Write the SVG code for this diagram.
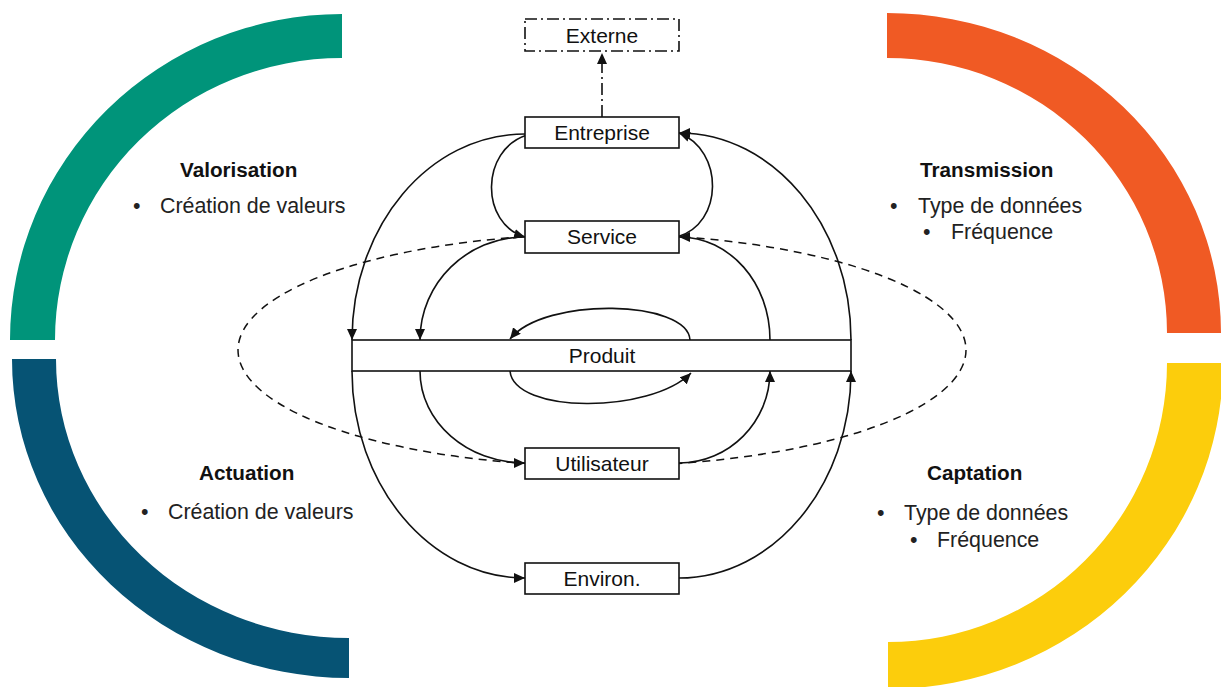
<svg xmlns="http://www.w3.org/2000/svg" width="1221" height="687" viewBox="0 0 1221 687">
<style>
.box{fill:#fff;stroke:#111;stroke-width:1.6}
.lbl{font-family:"Liberation Sans",Arial,sans-serif;font-size:21px;fill:#111;text-anchor:middle}
.ttl{font-family:"Liberation Sans",Arial,sans-serif;font-size:20.7px;font-weight:bold;fill:#111}
.txt{font-family:"Liberation Sans",Arial,sans-serif;font-size:21.4px;fill:#222}
.con{fill:none;stroke:#111;stroke-width:1.6}
</style>
<defs>
<marker id="ah" markerUnits="userSpaceOnUse" markerWidth="12" markerHeight="10" refX="11" refY="5" orient="auto">
<path d="M0,0 L11,5 L0,10 Z" fill="#111"/>
</marker>
</defs>
<rect width="1221" height="687" fill="#fff"/>
<g id="arcs">
<path id="arc-valorisation" d="M342,14 A332,326 0 0 0 10,340 L55,340 A287,282 0 0 1 342,58 Z" fill="#00947A"/>
<path id="arc-actuation" d="M12,359 A337,319 0 0 0 349,678 L349,638 A293,279 0 0 1 56,359 Z" fill="#065374"/>
<path id="arc-transmission" d="M887,13 A334,320 0 0 1 1221,333 L1167,333 A280,275 0 0 0 887,58 Z" fill="#F05A24"/>
<path id="arc-captation" d="M1223,363 A335,326 0 0 1 888,689 L888,642 A279,279 0 0 0 1167,363 Z" fill="#FCCD0C"/>
</g>
<g id="sections">
<g id="valorisation">
<text class="ttl" x="180" y="177">Valorisation</text>
<text class="txt" x="133" y="213">•</text><text class="txt" x="160" y="213">Création de valeurs</text>
</g>
<g id="actuation">
<text class="ttl" x="199" y="480">Actuation</text>
<text class="txt" x="141" y="519">•</text><text class="txt" x="168" y="519">Création de valeurs</text>
</g>
<g id="transmission">
<text class="ttl" x="920" y="177">Transmission</text>
<text class="txt" x="890" y="213">•</text><text class="txt" x="918" y="213">Type de données</text>
<text class="txt" x="923" y="239">•</text><text class="txt" x="951" y="239">Fréquence</text>
</g>
<g id="captation">
<text class="ttl" x="927" y="480">Captation</text>
<text class="txt" x="877" y="520">•</text><text class="txt" x="904" y="520">Type de données</text>
<text class="txt" x="910" y="547">•</text><text class="txt" x="937" y="547">Fréquence</text>
</g>
</g>
<g id="connectors">
<ellipse cx="602" cy="350" rx="364" ry="116" fill="none" stroke="#111" stroke-width="1.5" stroke-dasharray="8,6"/>
<path class="con" d="M602,117 L602,53" stroke-dasharray="12,4,2,4" marker-end="url(#ah)"/>
<path class="con" d="M525,134 C429,134 352,226 352,340" marker-end="url(#ah)"/>
<path class="con" d="M527,135 C480,150 480,224 525,237" marker-end="url(#ah)"/>
<path class="con" d="M677,237 C724,224 724,150 679,133" marker-end="url(#ah)"/>
<path class="con" d="M851,340 C851,226 774,133 679,133" marker-end="url(#ah)"/>
<path class="con" d="M525,237 C467,237 420,283 420,340" marker-end="url(#ah)"/>
<path class="con" d="M770,340 C770,283 730,237 679,237" marker-end="url(#ah)"/>
<path class="con" d="M690,340 C688,300 545,296 510,339" marker-end="url(#ah)"/>
<path class="con" d="M510,371 C514,414 650,414 691,373" marker-end="url(#ah)"/>
<path class="con" d="M420,371 C420,422 467,463 525,463" marker-end="url(#ah)"/>
<path class="con" d="M679,463 C729,463 770,422 770,371" marker-end="url(#ah)"/>
<path class="con" d="M352,371 C352,485 430,578 525,578" marker-end="url(#ah)"/>
<path class="con" d="M679,578 C774,578 851,485 851,371" marker-end="url(#ah)"/>
</g>
<g id="externe">
<rect x="525" y="19" width="154" height="32" fill="#fff" stroke="#111" stroke-width="1.6" stroke-dasharray="12,4,2,4"/>
<text class="lbl" x="602" y="43">Externe</text>
</g>
<g id="entreprise">
<rect class="box" x="525" y="117" width="154" height="31"/>
<text class="lbl" x="602" y="140">Entreprise</text>
</g>
<g id="service">
<rect class="box" x="525" y="221" width="154" height="32"/>
<text class="lbl" x="602" y="244">Service</text>
</g>
<g id="produit">
<rect class="box" x="352" y="340" width="499" height="31"/>
<text class="lbl" x="602" y="363">Produit</text>
</g>
<g id="utilisateur">
<rect class="box" x="525" y="448" width="154" height="31"/>
<text class="lbl" x="602" y="471">Utilisateur</text>
</g>
<g id="environ">
<rect class="box" x="525" y="563" width="154" height="31"/>
<text class="lbl" x="602" y="586">Environ.</text>
</g>
</svg>
